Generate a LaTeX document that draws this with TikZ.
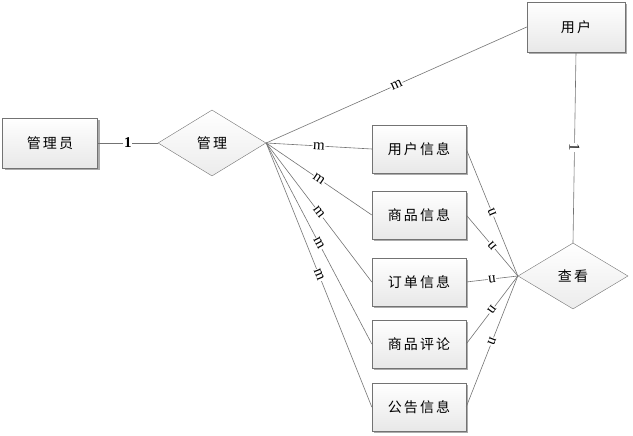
\documentclass[tikz,border=0pt]{standalone}
\usepackage{fontspec}
\newfontfamily\cjk[LetterSpace=15]{Noto Sans CJK SC}
\newfontfamily\cardfont{Liberation Serif}
\usetikzlibrary{shapes.geometric,shadows}

\begin{document}
\begin{tikzpicture}[x=1pt, y=1pt,
    entity/.style={draw=gray!90!black, top color=white, bottom color=gray!18,
      drop shadow={shadow xshift=2pt, shadow yshift=-2pt, fill=gray!65, opacity=1},
      minimum width=94pt, minimum height=48pt, inner sep=0pt,
      font=\cjk\fontsize{14}{16}\selectfont},
    relation/.style={diamond, aspect=1.6, draw=gray!90!black, top color=white,
      bottom color=gray!15, inner sep=0pt, minimum width=108pt, minimum height=66pt,
      font=\cjk\fontsize{14}{16}\selectfont},
    link/.style={draw=gray!90!black, line width=0.6pt},
    card/.style={fill=white, inner sep=0.6pt, sloped, allow upside down,
      font=\cardfont\fontsize{15}{15}\selectfont}]

  \useasboundingbox (0,0) rectangle (633,436);

  % Administrator side
  \node[entity, minimum width=95pt, minimum height=50pt] (admin) at (50,293) {管理员};
  \node[relation] (manage) at (212,293) {管理};
  \draw[link] (admin.east) -- (manage.west) node[card, midway, font=\cardfont\fontsize{15}{15}\selectfont\bfseries] {1};

  % User side
  \node[entity, minimum width=98pt, minimum height=50pt] (user) at (576,409) {用户};
  \node[relation, minimum width=110pt] (view) at (573,160) {查看};
  \draw[link] (user.south) -- (view.north) node[card, midway] {1};
  \draw[link] (manage.east) -- (user.west) node[card, midway] {m};

  % Information entities
  \foreach \name/\txt/\y in {userinfo/用户信息/287, goodsinfo/商品信息/221,
      orderinfo/订单信息/154, comment/商品评论/92, notice/公告信息/29} {
    \node[entity] (\name) at (419,\y) {\txt};
    \draw[link] (manage.east) -- (\name.west) node[card, midway] {m};
    \draw[link] (view.west) -- (\name.east) node[card, midway] {n};
  }
\end{tikzpicture}
\end{document}
